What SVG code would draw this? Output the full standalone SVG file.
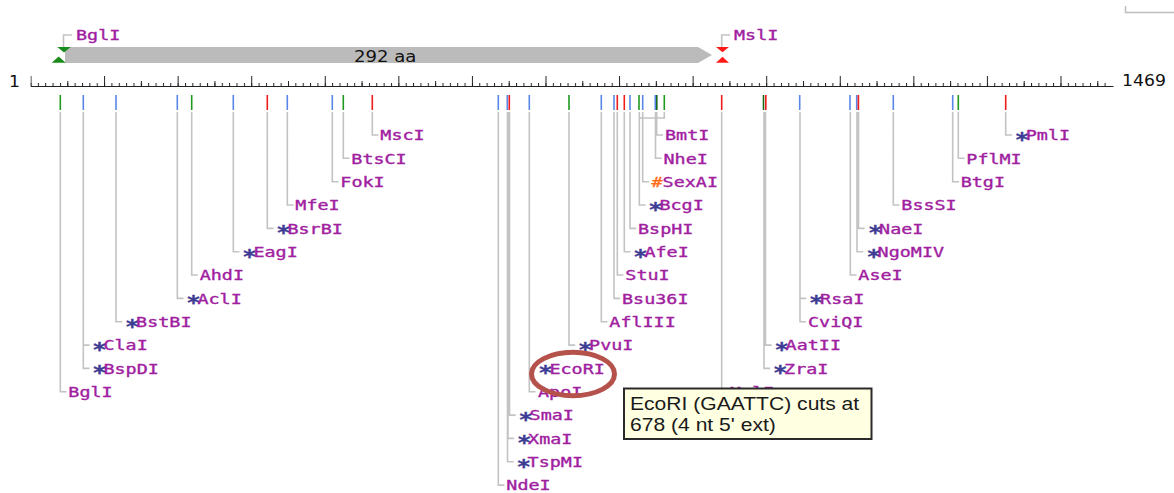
<svg xmlns="http://www.w3.org/2000/svg" width="1174" height="493" viewBox="0 0 1174 493">
<style>
.lb{font-family:"DejaVu Sans Mono","Liberation Mono",monospace;font-size:14.5px;fill:#a020a0;stroke:#a020a0;stroke-width:0.35px}
.a{fill:#3d3d94;stroke:#3d3d94;font-size:19px;font-weight:bold;letter-spacing:-2.7px}
.h{fill:#ff6a1a;stroke:#ff6a1a}
.num{font-family:"DejaVu Sans","Liberation Sans",sans-serif;font-size:15px;fill:#111}
.ln{fill:none;stroke:#c3c3c3;stroke-width:1.6}
.tk{fill:none;stroke-width:1.6}
.tip{font-family:"Liberation Sans",Arial,sans-serif;font-size:18.5px;fill:#1a1a1a}
</style>
<defs>
<pattern id="t10" patternUnits="userSpaceOnUse" x="30.5" y="0" width="7.357" height="493"><rect x="0" y="0" width="1" height="493" fill="#222"/></pattern>
<pattern id="t100" patternUnits="userSpaceOnUse" x="30.5" y="0" width="73.57" height="493"><rect x="0" y="0" width="1" height="493" fill="#222"/></pattern>
<pattern id="t50" patternUnits="userSpaceOnUse" x="67.285" y="0" width="73.57" height="493"><rect x="0" y="0" width="1" height="493" fill="#222"/></pattern>
</defs>
<rect width="1174" height="493" fill="#fff"/>
<path d="M1125.5 6V12.5H1174" fill="none" stroke="#bdbdbd" stroke-width="1.5"/>
<g id="feature">
<path d="M65 47H698L712 55L698 63H65Z" fill="#bbbbbb"/>
<text class="num" transform="translate(354,61.7) scale(1.13,1)" style="font-size:16px">292 aa</text>
</g>
<g id="cut-BglI-top">
<path d="M57.3 47H70.7L64 52.5Z" fill="#1a8a1a"/>
<path d="M51.7 62.7H65.7L58.7 56.5Z" fill="#1a8a1a"/>
<path class="ln" d="M63.5 47V35H72"/>
<text class="lb" transform="translate(76,40.3) scale(1.27,1)">BglI</text>
</g>
<g id="cut-MslI-top">
<path d="M716 47H729L722.5 52.3Z" fill="#ff1a1a"/>
<path d="M716 62.7H729L722.5 56.7Z" fill="#ff1a1a"/>
<path class="ln" d="M721.7 47V35H730"/>
<text class="lb" transform="translate(734,40.3) scale(1.27,1)">MslI</text>
</g>
<g id="ruler">
<path d="M31 86.5H1113.5" stroke="#222" stroke-width="1"/>
<rect x="30.5" y="83" width="1076" height="3.5" fill="url(#t10)"/>
<rect x="30.5" y="81" width="1076" height="5.5" fill="url(#t50)"/>
<rect x="30.5" y="76" width="1032" height="10.5" fill="url(#t100)"/>
<text class="num" transform="translate(9,86.5) scale(1.15,1)">1</text>
<text class="num" transform="translate(1122,86) scale(1.15,1)">1469</text>
</g>
<g id="sites">
<path class="tk" stroke="#5a86e8" d="M83.3 95V110M116 95V110M177.3 95V110M233.3 95V110M287.3 95V110M332.3 95V110M498.3 95V110M507.3 95V110M529.3 95V110M601.3 95V110M614 95V110M630 95V110M642.7 95V110M655.3 95V110M799.7 95V110M850 95V110M856.7 95V110M893.3 95V110M952.7 95V110"/>
<path class="tk" stroke="#1f9a1f" d="M60.3 95V110M191.7 95V110M343.3 95V110M569 95V110M639 95V110M664.3 95V110M958.3 95V110"/>
<path class="tk" stroke="#1a6a1a" d="M656.8 95V110M763.5 95V110"/>
<path class="tk" stroke="#f01c1c" d="M267.3 95V110M372.3 95V110M509.3 95V110M617.3 95V110M624.3 95V110M721.7 95V110M765.8 95V110M858.4 95V110M1005.7 95V110"/>
</g>
<g id="connectors">
<path class="ln" d="M372.3 112V135H378.5M343.3 112V158.3H349.5M332.3 112V181.7H338.5M287.3 112V205H293.5M267.3 112V228.4H273.5M233.3 112V251.7H239.5M191.7 112V275H197.9M177.3 112V298.4H183.5M116 112V321.7H122.2M83.3 112V345.1H89.5M83.3 112V368.4H89.5M60.3 112V391.7H66.5"/>
<path class="ln" d="M656.7 112V135H663M655.5 112V158.3H661.7M642.7 112V181.7H649M664.3 112V118H639.3M639.3 112V205H645.5M630 112V228.4H636.2M624.3 112V251.7H630.5M617.3 112V275H623.5M614 112V298.4H620.2M601.3 112V321.7H607.5M569 112V345.1H575.2M529.3 112V368.4H535.5M529.3 112V391.7H535.5M509.5 112V415.1H515.7M508 112V438.4H514.2M507.5 112V461.8H513.7M498.3 112V485.1H504.5"/>
<path class="ln" d="M1005.7 112V135H1012M958.3 112V158.3H964.5M952.7 112V181.7H959M893.3 112V205H899.5M858.5 112V228.4H864.7M857 112V251.7H863.2M850.3 112V275H856.5M800 112V298.4H806.2M800 112V321.7H806.2M765.5 112V345.1H771.7M764 112V368.4H770.2M721.7 112V391.7H727.9"/>
</g>
<g id="MscI"><text class="lb" transform="translate(380.3,140.3) scale(1.27,1)">MscI</text></g>
<g id="BtsCI"><text class="lb" transform="translate(351.3,163.6) scale(1.27,1)">BtsCI</text></g>
<g id="FokI"><text class="lb" transform="translate(340.3,187) scale(1.27,1)">FokI</text></g>
<g id="MfeI"><text class="lb" transform="translate(295.3,210.3) scale(1.27,1)">MfeI</text></g>
<g id="BsrBI"><text class="lb" transform="translate(276.3,233.7) scale(1.27,1)"><tspan class="a" dy="5.7">*</tspan><tspan dy="-5.7">BsrBI</tspan></text></g>
<g id="EagI"><text class="lb" transform="translate(242.3,257) scale(1.27,1)"><tspan class="a" dy="5.7">*</tspan><tspan dy="-5.7">EagI</tspan></text></g>
<g id="AhdI"><text class="lb" transform="translate(199.7,280.3) scale(1.27,1)">AhdI</text></g>
<g id="AclI"><text class="lb" transform="translate(186.3,303.7) scale(1.27,1)"><tspan class="a" dy="5.7">*</tspan><tspan dy="-5.7">AclI</tspan></text></g>
<g id="BstBI"><text class="lb" transform="translate(125,327) scale(1.27,1)"><tspan class="a" dy="5.7">*</tspan><tspan dy="-5.7">BstBI</tspan></text></g>
<g id="ClaI"><text class="lb" transform="translate(92.3,350.4) scale(1.27,1)"><tspan class="a" dy="5.7">*</tspan><tspan dy="-5.7">ClaI</tspan></text></g>
<g id="BspDI"><text class="lb" transform="translate(92.3,373.7) scale(1.27,1)"><tspan class="a" dy="5.7">*</tspan><tspan dy="-5.7">BspDI</tspan></text></g>
<g id="BglI"><text class="lb" transform="translate(68.3,397) scale(1.27,1)">BglI</text></g>
<g id="BmtI"><text class="lb" transform="translate(665,140.3) scale(1.27,1)">BmtI</text></g>
<g id="NheI"><text class="lb" transform="translate(663.5,163.6) scale(1.27,1)">NheI</text></g>
<g id="SexAI"><text class="lb" transform="translate(651.5,187) scale(1.27,1)"><tspan class="h">#</tspan>SexAI</text></g>
<g id="BcgI"><text class="lb" transform="translate(648.3,210.3) scale(1.27,1)"><tspan class="a" dy="5.7">*</tspan><tspan dy="-5.7">BcgI</tspan></text></g>
<g id="BspHI"><text class="lb" transform="translate(638,233.7) scale(1.27,1)">BspHI</text></g>
<g id="AfeI"><text class="lb" transform="translate(633.3,257) scale(1.27,1)"><tspan class="a" dy="5.7">*</tspan><tspan dy="-5.7">AfeI</tspan></text></g>
<g id="StuI"><text class="lb" transform="translate(625.3,280.3) scale(1.27,1)">StuI</text></g>
<g id="Bsu36I"><text class="lb" transform="translate(622,303.7) scale(1.27,1)">Bsu36I</text></g>
<g id="AflIII"><text class="lb" transform="translate(609.3,327) scale(1.27,1)">AflIII</text></g>
<g id="PvuI"><text class="lb" transform="translate(578,350.4) scale(1.27,1)"><tspan class="a" dy="5.7">*</tspan><tspan dy="-5.7">PvuI</tspan></text></g>
<g id="EcoRI"><text class="lb" transform="translate(538.3,373.7) scale(1.27,1)"><tspan class="a" dy="5.7">*</tspan><tspan dy="-5.7">EcoRI</tspan></text></g>
<g id="ApoI"><text class="lb" transform="translate(538,397) scale(1.27,1)">ApoI</text></g>
<g id="SmaI"><text class="lb" transform="translate(518.5,420.4) scale(1.27,1)"><tspan class="a" dy="5.7">*</tspan><tspan dy="-5.7">SmaI</tspan></text></g>
<g id="XmaI"><text class="lb" transform="translate(517,443.7) scale(1.27,1)"><tspan class="a" dy="5.7">*</tspan><tspan dy="-5.7">XmaI</tspan></text></g>
<g id="TspMI"><text class="lb" transform="translate(516.5,467.1) scale(1.27,1)"><tspan class="a" dy="5.7">*</tspan><tspan dy="-5.7">TspMI</tspan></text></g>
<g id="NdeI"><text class="lb" transform="translate(506.3,490.4) scale(1.27,1)">NdeI</text></g>
<g id="PmlI"><text class="lb" transform="translate(1014.7,140.3) scale(1.27,1)"><tspan class="a" dy="5.7">*</tspan><tspan dy="-5.7">PmlI</tspan></text></g>
<g id="PflMI"><text class="lb" transform="translate(966.3,163.6) scale(1.27,1)">PflMI</text></g>
<g id="BtgI"><text class="lb" transform="translate(960.7,187) scale(1.27,1)">BtgI</text></g>
<g id="BssSI"><text class="lb" transform="translate(901.3,210.3) scale(1.27,1)">BssSI</text></g>
<g id="NaeI"><text class="lb" transform="translate(868,233.7) scale(1.27,1)"><tspan class="a" dy="5.7">*</tspan><tspan dy="-5.7">NaeI</tspan></text></g>
<g id="NgoMIV"><text class="lb" transform="translate(866.5,257) scale(1.27,1)"><tspan class="a" dy="5.7">*</tspan><tspan dy="-5.7">NgoMIV</tspan></text></g>
<g id="AseI"><text class="lb" transform="translate(858.3,280.3) scale(1.27,1)">AseI</text></g>
<g id="RsaI"><text class="lb" transform="translate(809,303.7) scale(1.27,1)"><tspan class="a" dy="5.7">*</tspan><tspan dy="-5.7">RsaI</tspan></text></g>
<g id="CviQI"><text class="lb" transform="translate(808,327) scale(1.27,1)">CviQI</text></g>
<g id="AatII"><text class="lb" transform="translate(774.5,350.4) scale(1.27,1)"><tspan class="a" dy="5.7">*</tspan><tspan dy="-5.7">AatII</tspan></text></g>
<g id="ZraI"><text class="lb" transform="translate(773,373.7) scale(1.27,1)"><tspan class="a" dy="5.7">*</tspan><tspan dy="-5.7">ZraI</tspan></text></g>
<g id="MslI"><text class="lb" transform="translate(730,397) scale(1.27,1)">MslI</text></g>
<ellipse id="highlight" cx="573" cy="374" rx="41.5" ry="21.7" fill="none" stroke="#b5524c" stroke-width="5"/>
<g id="tooltip">
<rect x="624" y="388.5" width="247.5" height="50.5" fill="#ffffe1" stroke="#2a2a2a" stroke-width="2"/>
<text class="tip" transform="translate(630,410) scale(1.14,1)">EcoRI (GAATTC) cuts at</text>
<text class="tip" transform="translate(630,431) scale(1.14,1)">678 (4 nt 5' ext)</text>
</g>
</svg>
